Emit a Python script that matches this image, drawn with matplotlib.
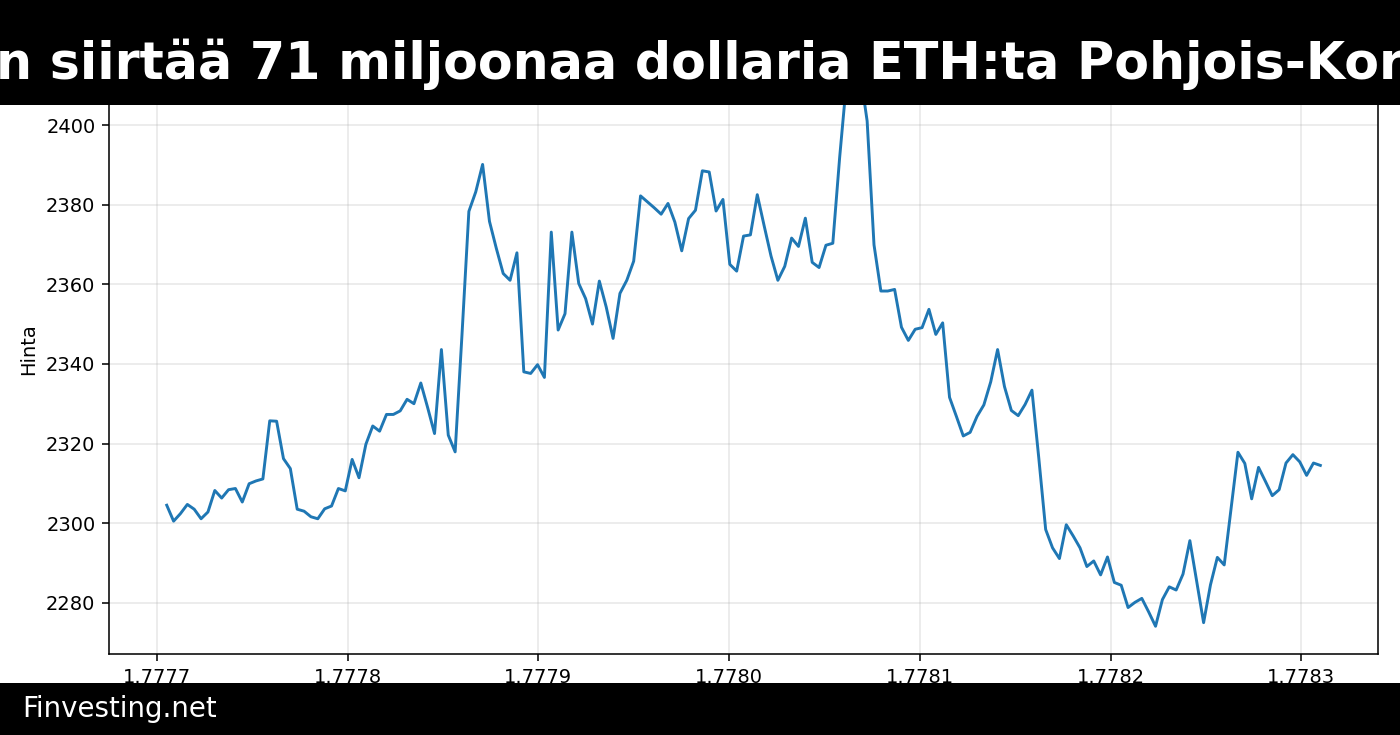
import numpy as np
import matplotlib
matplotlib.use("Agg")
import matplotlib.pyplot as plt
from matplotlib.patches import Rectangle

# hourly ETH prices, x axis is unix time in seconds
start_ts = 1777705200
step_s = 3600

prices = [
    2304.5, 2300.5, 2302.4, 2304.7, 2303.5, 2301.1, 2302.8, 2308.2, 2306.3, 2308.4,
    2308.7, 2305.3, 2309.9, 2310.6, 2311.1, 2325.7, 2325.6, 2316.2, 2313.7, 2303.5,
    2303.0, 2301.6, 2301.1, 2303.6, 2304.3, 2308.7, 2308.1, 2316.0, 2311.4, 2319.8,
    2324.4, 2323.1, 2327.3, 2327.3, 2328.2, 2331.1, 2330.0, 2335.2, 2329.0, 2322.5,
    2343.6, 2322.1, 2317.9, 2347.4, 2378.3, 2383.2, 2390.1, 2375.8, 2369.0, 2362.7,
    2361.0, 2367.9, 2338.0, 2337.6, 2339.8, 2336.6, 2373.1, 2348.5, 2352.6, 2373.1,
    2360.2, 2356.4, 2350.0, 2360.8, 2354.3, 2346.4, 2357.7, 2361.0, 2365.8, 2382.2,
    2380.7, 2379.2, 2377.6, 2380.3, 2375.6, 2368.4, 2376.5, 2378.6, 2388.5, 2388.2,
    2378.4, 2381.3, 2365.0, 2363.3, 2372.1, 2372.4, 2382.5, 2374.7, 2367.1, 2361.0,
    2364.5, 2371.6, 2369.5, 2376.6, 2365.5, 2364.2, 2369.8, 2370.3, 2391.9, 2411.0,
    2413.5, 2413.0, 2401.0, 2369.9, 2358.3, 2358.3, 2358.7, 2349.2, 2345.9, 2348.7,
    2349.1, 2353.7, 2347.4, 2350.3, 2331.6, 2326.8, 2321.9, 2322.8, 2326.8, 2329.7,
    2335.5, 2343.6, 2334.3, 2328.3, 2327.0, 2329.8, 2333.4, 2316.3, 2298.4, 2293.8,
    2291.1, 2299.6, 2296.8, 2293.8, 2289.1, 2290.5, 2287.0, 2291.5, 2285.1, 2284.4,
    2278.8, 2280.1, 2281.1, 2277.7, 2274.1, 2280.8, 2284.0, 2283.2, 2287.2, 2295.6,
    2285.3, 2275.0, 2284.5, 2291.4, 2289.5, 2303.7, 2317.8, 2315.0, 2306.1, 2314.0,
    2310.5, 2306.9, 2308.4, 2315.1, 2317.2, 2315.4, 2312.0, 2315.1, 2314.5,
]
times = start_ts + step_s * np.arange(len(prices))

title = "n siirtää 71 miljoonaa dollaria ETH:ta Pohjois-Kor"
brand = "Finvesting.net"

fig = plt.figure(figsize=(10, 5.25), dpi=140)
ax = fig.add_axes([0.0779, 0.1102, 0.9064, 0.8306])
ax.plot(times, prices, color="#1f77b4", linewidth=1.5)
ax.set_ylabel("Hinta")
ax.grid(True, alpha=0.3)

# black banners on top of the plot
fig.add_artist(Rectangle((0, 0.857), 1, 0.143, transform=fig.transFigure,
                         facecolor="black", edgecolor="none", zorder=10))
fig.add_artist(Rectangle((0, 0), 1, 0.0707, transform=fig.transFigure,
                         facecolor="black", edgecolor="none", zorder=10))
fig.text(-0.0025, 0.8925, title, color="white", fontsize=26.1, fontweight="bold",
         ha="left", va="baseline", zorder=11)
fig.text(0.0157, 0.0354, brand, color="white", fontsize=14.2,
         ha="left", va="center", zorder=11)

fig.savefig("out.png", dpi=140)
